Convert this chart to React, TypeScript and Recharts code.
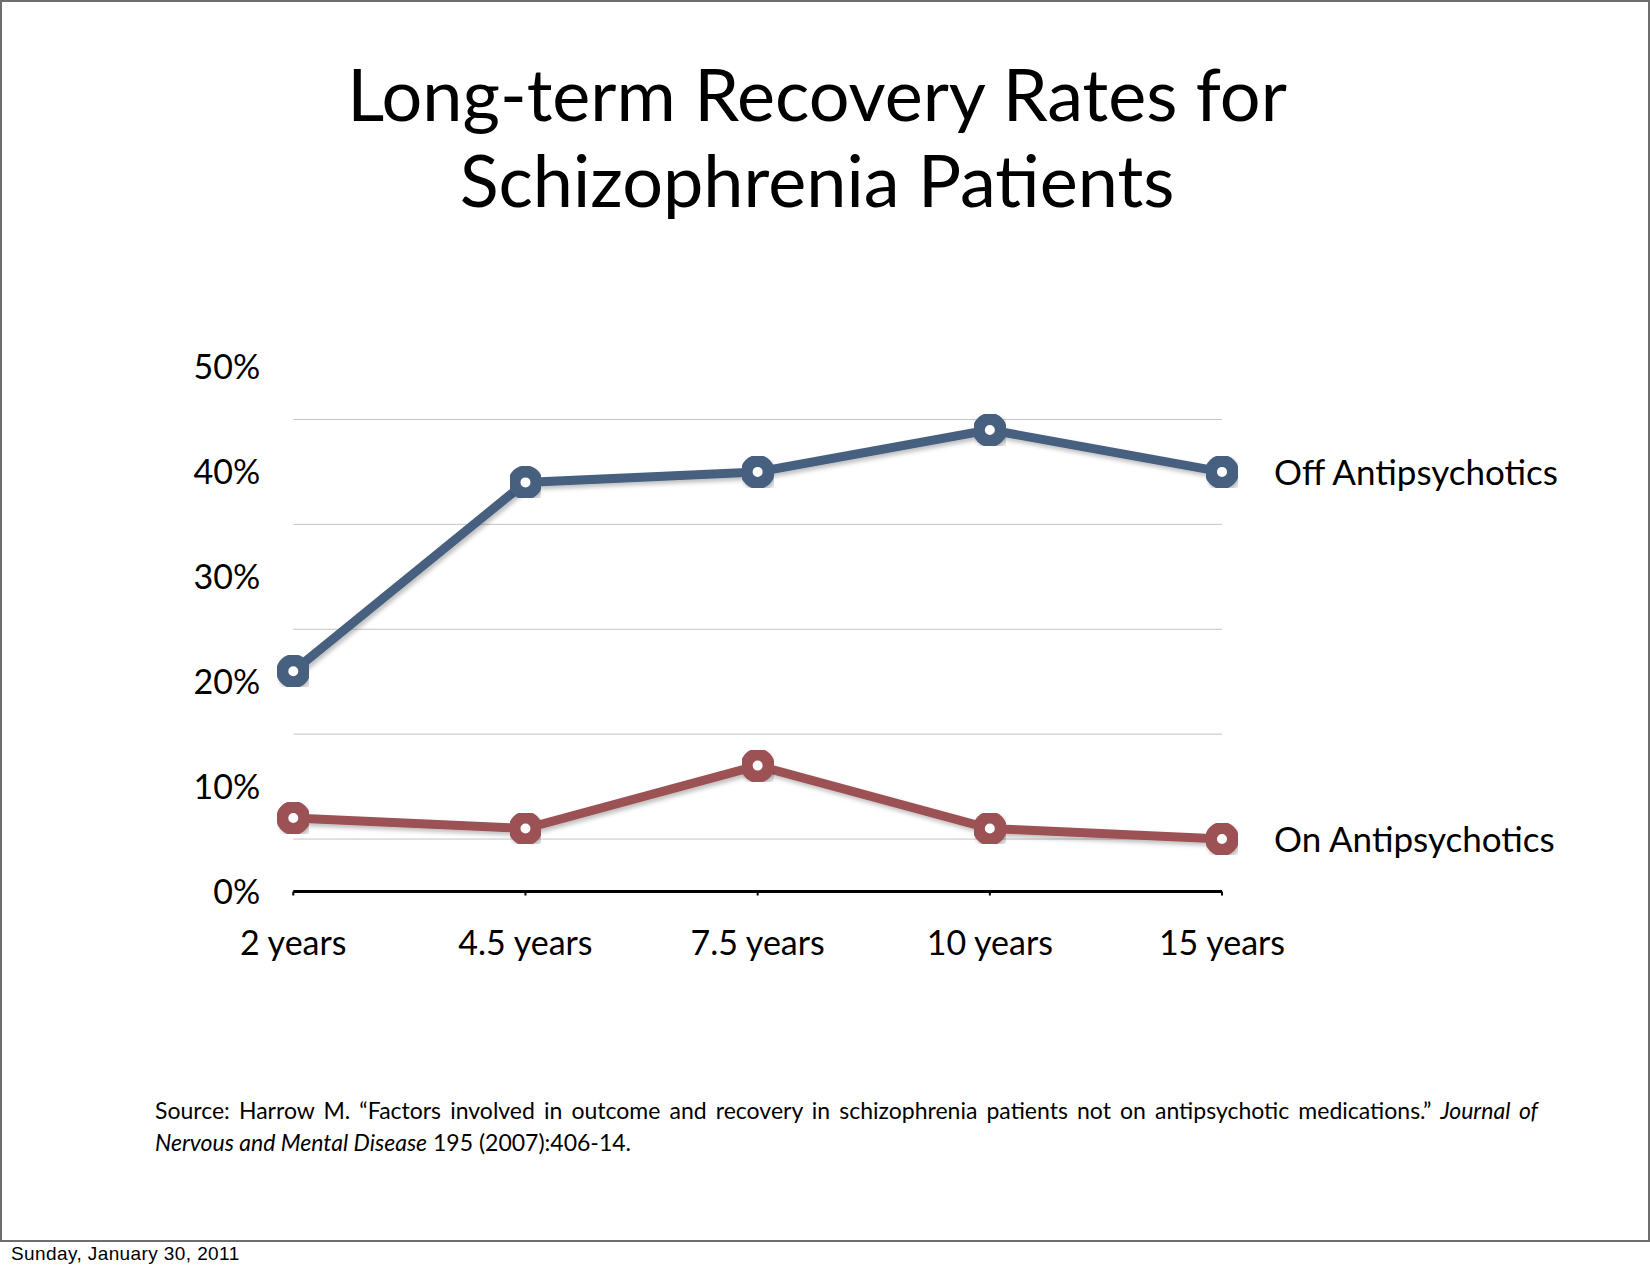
import { CartesianGrid, Line, LineChart, XAxis, YAxis } from 'recharts';

const CATEGORIES = ['2 years', '4.5 years', '7.5 years', '10 years', '15 years'];
const OFF_MEDS = [21, 39, 40, 44, 40];
const ON_MEDS = [7, 6, 12, 6, 5];
const Y_TICKS = [0, 10, 20, 30, 40, 50];
const GRID_VALUES = [5, 15, 25, 35, 45];
const MINOR_TICKS = [0.5, 1.5, 2.5, 3.5];

const FONT = 'Lato, "Open Sans", sans-serif';
const BLUE = '#46617f';
const RED = '#9c5154';

const rows = CATEGORIES.map((name, i) => ({ name, off: OFF_MEDS[i], on: ON_MEDS[i] }));

function endLabel(text: string) {
  return (props: any) => {
    const { x, y, index } = props;
    if (index !== CATEGORIES.length - 1) return null;
    return (
      <text x={x + 52} y={y} dy="0.36em" fontFamily={FONT} fontSize={35} fill="#000">
        {text}
      </text>
    );
  };
}

const TICK_STYLE = { fontFamily: FONT, fontSize: 34, fill: '#000' };

export default function App() {
  return (
    <div style={{ position: 'absolute', left: 0, top: 0, width: 1650, height: 1275, background: '#fff' }}>
      {/* slide frame */}
      <div
        style={{
          position: 'absolute',
          left: 0,
          top: 0,
          width: 1650,
          height: 1242,
          border: '2px solid #6e6e6e',
          boxSizing: 'border-box',
        }}
      />
      <div
        style={{
          position: 'absolute',
          left: 0,
          top: 50,
          width: 1634,
          textAlign: 'center',
          fontFamily: FONT,
          fontSize: 72,
          lineHeight: '86px',
          color: '#000',
        }}
      >
        <div>Long-term Recovery Rates for</div>
        <div>Schizophrenia Patients</div>
      </div>

      <div style={{ position: 'absolute', left: 0, top: 0 }}>
        <LineChart
          width={1650}
          height={1275}
          data={rows}
          margin={{ top: 367, right: 428, bottom: 323.5, left: 193.3 }}
        >
          <defs>
            <filter id="shadow" x="-20%" y="-20%" width="140%" height="140%">
              <feDropShadow dx="2" dy="3" stdDeviation="2" floodColor="#000" floodOpacity="0.25" />
            </filter>
          </defs>
          <CartesianGrid
            vertical={false}
            horizontalValues={GRID_VALUES}
            stroke="#c4c4c4"
            strokeWidth={1}
          />
          <XAxis
            xAxisId="minor"
            type="number"
            domain={[0, CATEGORIES.length - 1]}
            ticks={MINOR_TICKS}
            allowDataOverflow
            height={0}
            tick={false}
            axisLine={false}
            tickSize={4}
            tickLine={{ stroke: '#000', strokeWidth: 2 }}
          />
          <XAxis
            dataKey="name"
            interval={0}
            height={60}
            tick={TICK_STYLE}
            tickSize={4}
            tickMargin={35}
            tickLine={{ stroke: '#000', strokeWidth: 2 }}
            axisLine={{ stroke: '#000', strokeWidth: 3 }}
          />
          <YAxis
            domain={[0, 50]}
            ticks={Y_TICKS}
            tickFormatter={(v: number) => `${v}%`}
            width={100}
            axisLine={false}
            tickLine={false}
            tickSize={0}
            tickMargin={33}
            tick={TICK_STYLE}
          />
          <Line
            dataKey="off"
            stroke={BLUE}
            strokeWidth={9}
            filter="url(#shadow)"
            dot={{ r: 11, strokeWidth: 12, fill: '#fff', stroke: BLUE, filter: 'url(#shadow)' }}
            activeDot={false}
            label={endLabel('Off Antipsychotics')}
            isAnimationActive={false}
          />
          <Line
            dataKey="on"
            stroke={RED}
            strokeWidth={9}
            filter="url(#shadow)"
            dot={{ r: 11, strokeWidth: 12, fill: '#fff', stroke: RED, filter: 'url(#shadow)' }}
            activeDot={false}
            label={endLabel('On Antipsychotics')}
            isAnimationActive={false}
          />
        </LineChart>
      </div>

      <div
        style={{
          position: 'absolute',
          left: 155,
          top: 1094,
          width: 1383,
          fontFamily: FONT,
          fontSize: 23,
          lineHeight: '32px',
          color: '#000',
        }}
      >
        <div style={{ textAlign: 'justify', textAlignLast: 'justify', whiteSpace: 'nowrap' }}>
          Source: Harrow M. “Factors involved in outcome and recovery in schizophrenia patients not on
          antipsychotic medications.” <i>Journal of</i>
        </div>
        <div>
          <i>Nervous and Mental Disease</i> 195 (2007):406-14.
        </div>
      </div>

      <div
        style={{
          position: 'absolute',
          left: 11,
          top: 1243,
          fontFamily: '"Liberation Sans", Arial, sans-serif',
          fontSize: 19,
          lineHeight: '22px',
          letterSpacing: 0.4,
          color: '#000',
        }}
      >
        Sunday, January 30, 2011
      </div>
    </div>
  );
}
